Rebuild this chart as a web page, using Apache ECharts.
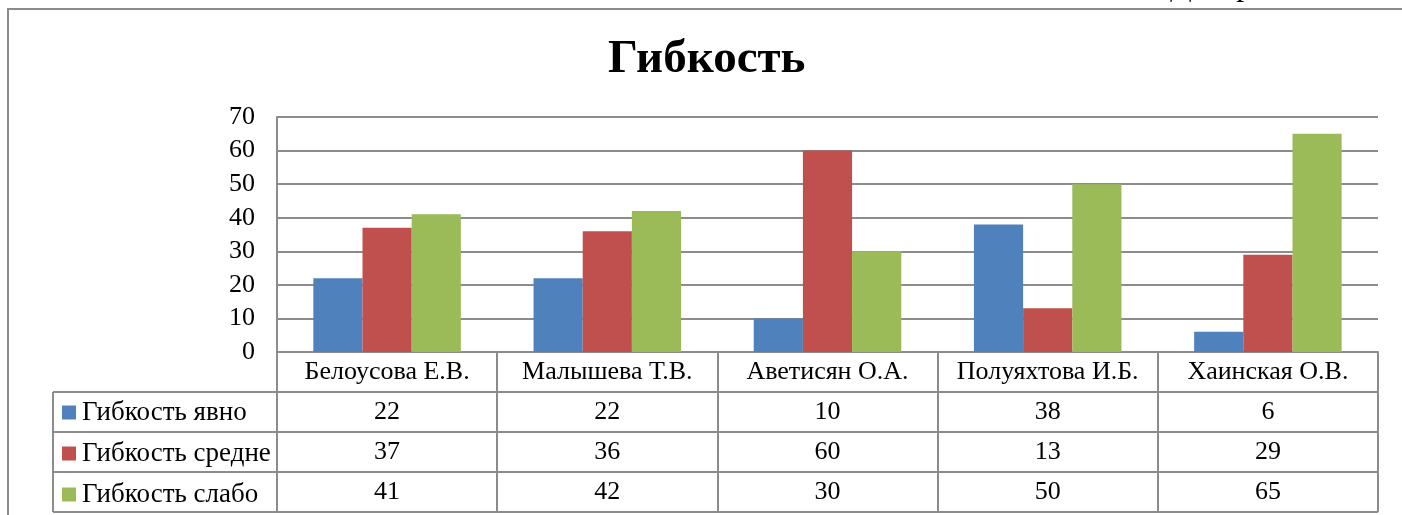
<!DOCTYPE html>
<html><head><meta charset="utf-8">
<script src="https://cdn.jsdelivr.net/npm/echarts@6/dist/echarts.min.js"></script>
<style>html,body{margin:0;padding:0;background:#fff}#c{width:1402px;height:515px}</style>
</head><body><div id="c"></div>
<script>
const categories = ['Белоусова Е.В.', 'Малышева Т.В.', 'Аветисян О.А.', 'Полуяхтова И.Б.', 'Хаинская О.В.'];
const seriesNames = ['Гибкость явно', 'Гибкость средне', 'Гибкость слабо'];
const yavno = [22, 22, 10, 38, 6];
const sredne = [37, 36, 60, 13, 29];
const slabo = [41, 42, 30, 50, 65];
const yTicks = [0, 10, 20, 30, 40, 50, 60, 70];
const titleText = 'Гибкость';
const topCutText = 'Диаграмма';

const seriesValues = [yavno, sredne, slabo];
const colors = ['#4F81BD', '#C0504D', '#9BBB59'];
const font = '"Liberation Serif", "Times New Roman", serif';
const lineColor = '#8c8c8c';
const fs = 26;
const gridL = 277, gridR = 1378, gridT = 117, gridB = 352;
const rowH = 40;
const tableLeft = 53;

const chart = echarts.init(document.getElementById('c'), null, {renderer: 'canvas'});

const xAxes = [{
  type: 'category', data: categories, position: 'bottom',
  axisLine: {show: true, lineStyle: {color: lineColor, width: 2}},
  axisTick: {show: true, length: rowH * 4, lineStyle: {color: lineColor, width: 2}},
  axisLabel: {interval: 0, margin: rowH / 2, verticalAlign: 'middle', color: '#000', fontFamily: font, fontSize: fs}
}];
seriesValues.forEach((vals, k) => {
  xAxes.push({
    type: 'category', data: vals.map(String), position: 'bottom', offset: rowH * (k + 1),
    axisLine: {show: false}, axisTick: {show: false}, splitLine: {show: false},
    axisLabel: {interval: 0, margin: rowH / 2, verticalAlign: 'middle', color: '#000', fontFamily: font, fontSize: fs}
  });
});

const graphics = [
  {type: 'rect', shape: {x: 8, y: 9, width: 1500, height: 600}, style: {fill: 'none', stroke: lineColor, lineWidth: 2}, z: 0},
  {type: 'text', x: 1170, y: -29, style: {text: topCutText, font: '32px ' + font, fill: '#000'}, z: 0},
  {type: 'line', shape: {x1: tableLeft, y1: gridB + rowH, x2: tableLeft, y2: gridB + rowH * 4}, style: {stroke: lineColor, lineWidth: 2}}
];
for (let r = 1; r <= 4; r++) {
  graphics.push({type: 'line', shape: {x1: tableLeft, y1: gridB + rowH * r, x2: gridR, y2: gridB + rowH * r}, style: {stroke: lineColor, lineWidth: 2}});
}

chart.setOption({
  animation: false,
  backgroundColor: '#fff',
  color: colors,
  title: {text: titleText, left: 608, top: 36, padding: 0, textStyle: {fontFamily: font, fontSize: 47, fontWeight: 'bold', color: '#000'}},
  legend: {
    orient: 'vertical', left: 62, top: gridB + rowH + 7, padding: 0, icon: 'rect', itemWidth: 14, itemHeight: 14, itemGap: 14,
    selectedMode: false, data: seriesNames,
    textStyle: {fontFamily: font, fontSize: 27, lineHeight: 26, color: '#000', padding: [0, 0, 0, 1]}
  },
  grid: {left: gridL, right: 1402 - gridR, top: gridT, bottom: 515 - gridB, containLabel: false},
  xAxis: xAxes,
  yAxis: {
    type: 'value', min: yTicks[0], max: yTicks[yTicks.length - 1], interval: 10,
    axisLine: {show: true, lineStyle: {color: lineColor, width: 2}},
    axisTick: {show: false},
    splitLine: {lineStyle: {color: lineColor, width: 2}},
    axisLabel: {margin: 22, color: '#000', fontFamily: font, fontSize: fs}
  },
  series: seriesNames.map((name, k) => ({
    name, type: 'bar', xAxisIndex: 0, data: seriesValues[k],
    barGap: '0%', barCategoryGap: '33%',
    itemStyle: {color: colors[k]}
  })),
  graphic: graphics
});
</script>
</body></html>
